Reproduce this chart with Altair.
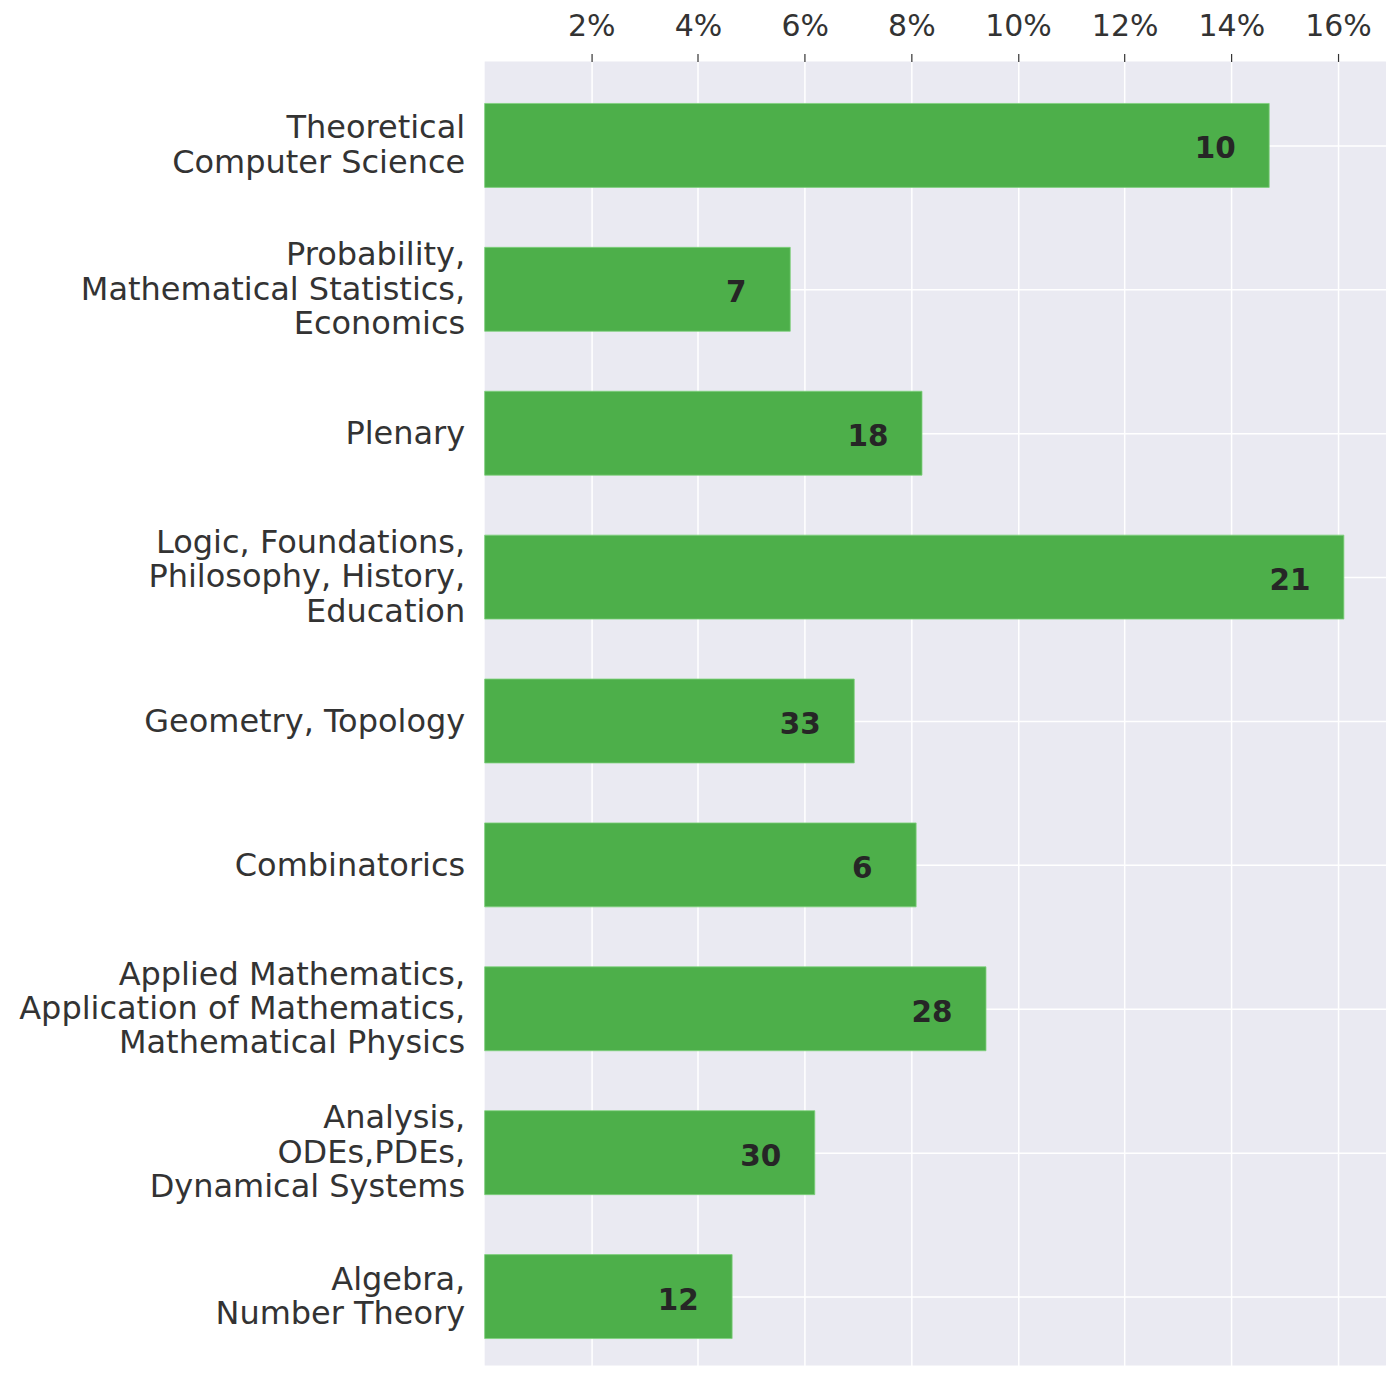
import altair as alt
import pandas as pd

categories = [
    "Theoretical|Computer Science",
    "Probability,|Mathematical Statistics,|Economics",
    "Plenary",
    "Logic, Foundations,|Philosophy, History,|Education",
    "Geometry, Topology",
    "Combinatorics",
    "Applied Mathematics,|Application of Mathematics,|Mathematical Physics",
    "Analysis,|ODEs,PDEs,|Dynamical Systems",
    "Algebra,|Number Theory",
]
percent = [14.71, 5.73, 8.20, 16.11, 6.93, 8.09, 9.40, 6.19, 4.64]
counts = [10, 7, 18, 21, 33, 6, 28, 30, 12]
tick_values = [2, 4, 6, 8, 10, 12, 14, 16]

df = pd.DataFrame({"category": categories, "percent": percent, "count": counts})

FONT = "DejaVu Sans"
GREEN = "#4daf4a"
LH = 34.5

nlines = "length(split(datum.value, '|'))"

y_enc = alt.Y(
    "category:N",
    sort=categories,
    title=None,
    scale=alt.Scale(paddingInner=0.4167, paddingOuter=0.2396, align=0.609),
    axis=alt.Axis(
        labelExpr="split(datum.label, '|')",
        labelFont=FONT,
        labelFontSize=32,
        labelColor="#333333",
        labelLineHeight=LH,
        labelPadding=20,
        labelLimit=700,
        labelBaseline={"condition": {"test": nlines + " >= 2", "value": "line-bottom"}, "value": "middle"},
        labelOffset={"condition": {"test": nlines + " >= 3", "value": -LH / 2 + 1}, "value": 1},
        ticks=False,
        domain=False,
        grid=True,
        gridColor="white",
        gridWidth=1.5,
        bandPosition=0.5,
    ),
)
x_enc = alt.X(
    "percent:Q",
    title=None,
    scale=alt.Scale(domain=[0, 16.9], nice=False, zero=True),
    axis=alt.Axis(
        orient="top",
        values=tick_values,
        labelExpr="datum.value + '%'",
        labelFont=FONT,
        labelFontSize=30,
        labelColor="#333333",
        labelPadding=12,
        tickSize=8,
        tickColor="#333333",
        tickWidth=1.2,
        domain=False,
        grid=True,
        gridColor="white",
        gridWidth=1.5,
    ),
)

bars = alt.Chart(df).mark_bar(color=GREEN, stroke="#7fd07c", strokeWidth=0.8).encode(
    x=x_enc, y=y_enc
)
labels = alt.Chart(df).mark_text(
    font=FONT, fontSize=29.5, fontWeight="bold", color="#262626",
    align="center", baseline="middle", dx=-54, dy=4,
).encode(
    x="percent:Q", y=alt.Y("category:N", sort=categories), text="count:Q"
)

chart = (
    alt.layer(bars, labels)
    .properties(
        width=902,
        height=1305,
        padding={"left": 10, "top": 3, "right": 0, "bottom": 0},
        background="white",
    )
    .configure_view(fill="#eaeaf2", stroke=None)
)

chart.save("out.html", embed_options={"renderer": "svg", "actions": False})
